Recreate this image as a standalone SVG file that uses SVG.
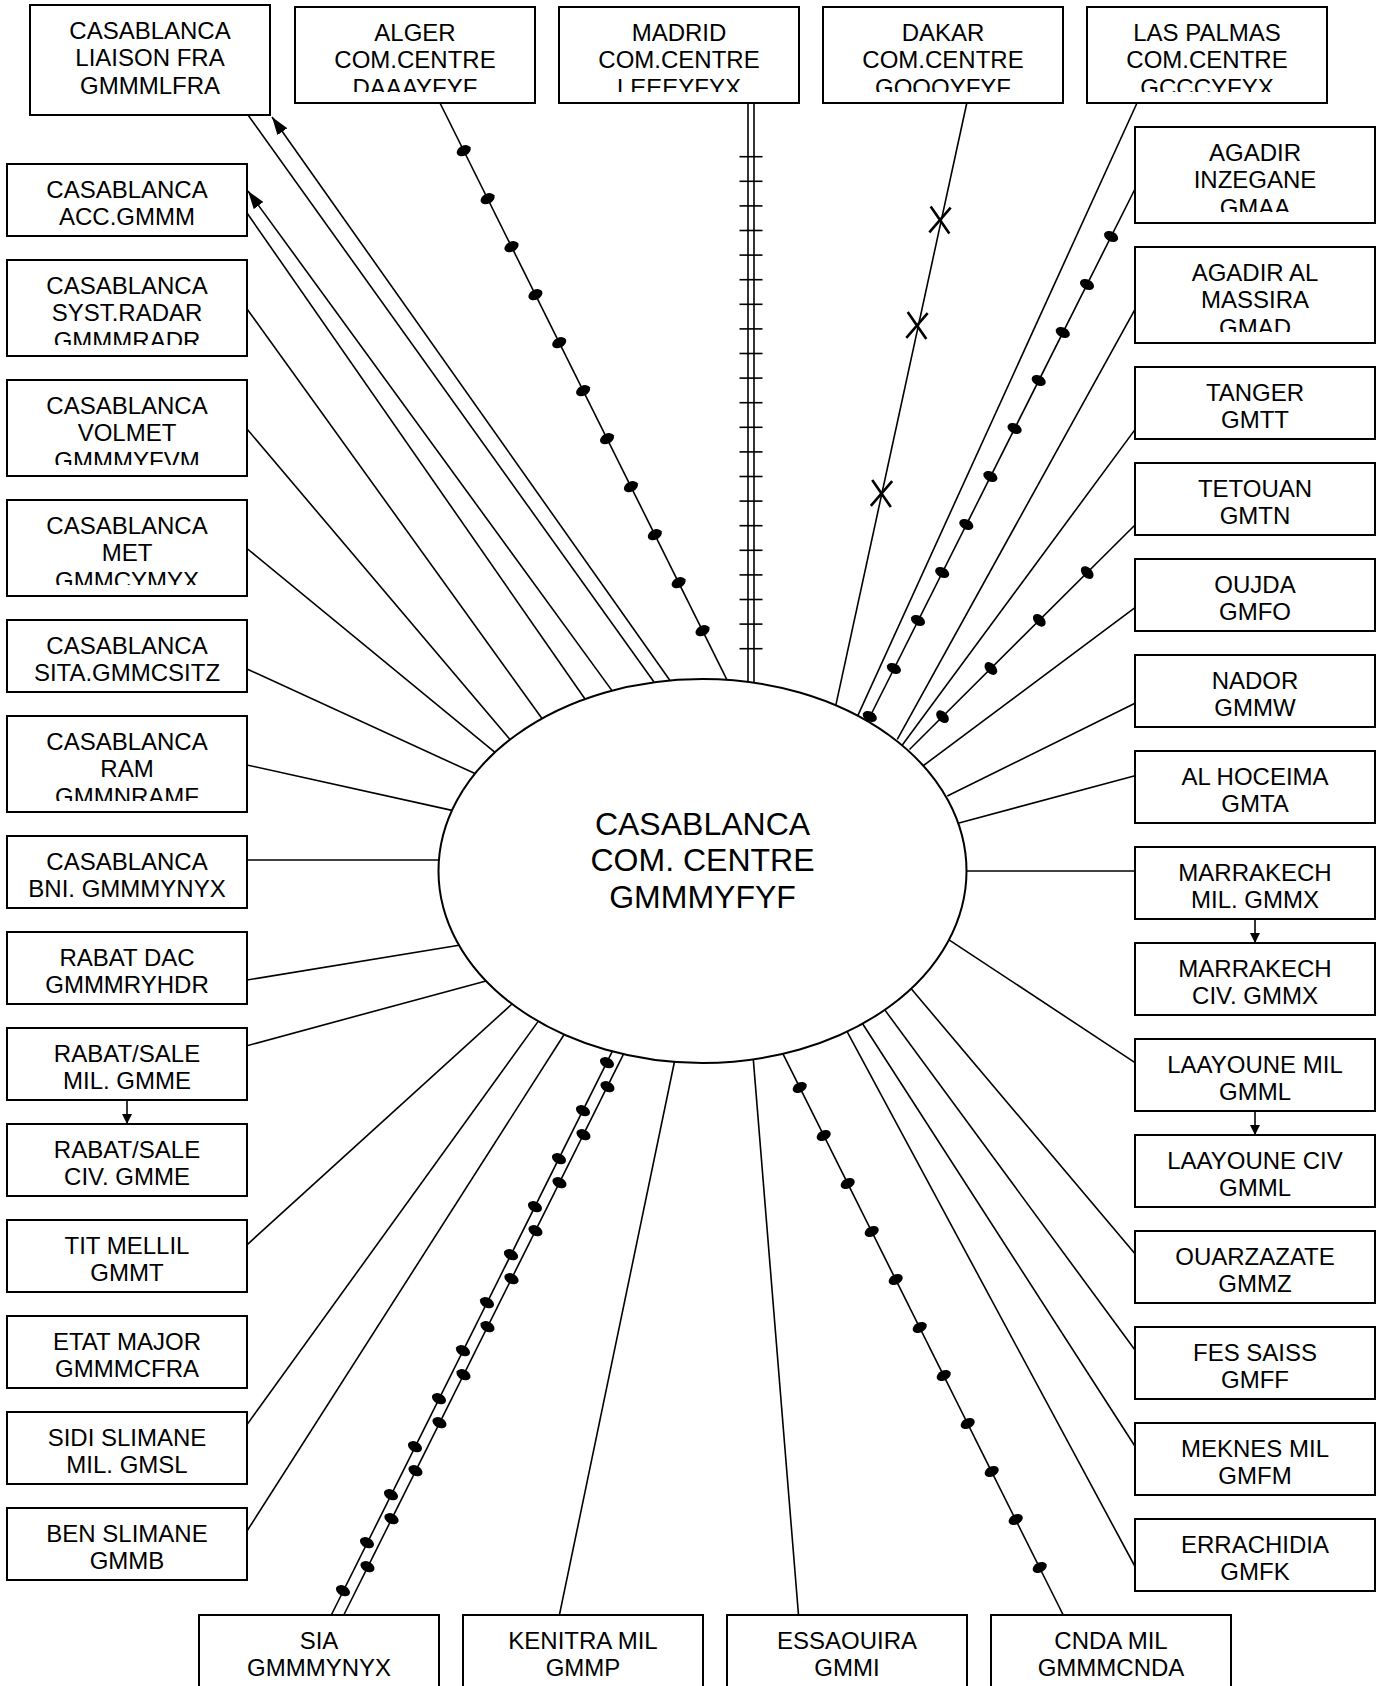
<svg xmlns="http://www.w3.org/2000/svg" xmlns:xlink="http://www.w3.org/1999/xlink" width="1384" height="1686" viewBox="0 0 1384 1686">
<style>
.box{fill:#fff;stroke:#000;stroke-width:2}
.t{font-family:"Liberation Sans",Arial,Helvetica,sans-serif;font-size:24px;text-anchor:middle;fill:#000}
.tc{font-size:32px}
.ln{stroke:#000;stroke-width:1.6;fill:none}
.tick{stroke:#000;stroke-width:1.6}
.xm{stroke:#000;stroke-width:2.6;fill:none}
.dot{fill:#000}
</style>
<defs>
<marker id="ah" viewBox="0 0 18 12" refX="18" refY="6" markerWidth="18" markerHeight="12" markerUnits="userSpaceOnUse" orient="auto"><path d="M0,0 L18,6 L0,12 z" fill="#000"/></marker>
<marker id="as" viewBox="0 0 10 10" refX="10" refY="5" markerWidth="10" markerHeight="10" markerUnits="userSpaceOnUse" orient="auto"><path d="M0,0 L10,5 L0,10 z" fill="#000"/></marker>
<ellipse id="dot" class="dot" rx="7.5" ry="5"/>
<path id="xmark" class="xm" d="M-10,-13 L10,13 M10,-13 L-10,13"/>
<clipPath id="c-alger"><rect x="295" y="7" width="240" height="85"/></clipPath>
<clipPath id="c-madrid"><rect x="559" y="7" width="240" height="85"/></clipPath>
<clipPath id="c-dakar"><rect x="823" y="7" width="240" height="85"/></clipPath>
<clipPath id="c-laspalmas"><rect x="1087" y="7" width="240" height="85"/></clipPath>
<clipPath id="c-radar"><rect x="7" y="260" width="240" height="85"/></clipPath>
<clipPath id="c-volmet"><rect x="7" y="380" width="240" height="85"/></clipPath>
<clipPath id="c-met"><rect x="7" y="500" width="240" height="85"/></clipPath>
<clipPath id="c-ram"><rect x="7" y="716" width="240" height="85"/></clipPath>
<clipPath id="c-inzegane"><rect x="1135" y="127" width="240" height="85"/></clipPath>
<clipPath id="c-massira"><rect x="1135" y="247" width="240" height="85"/></clipPath>
</defs>
<rect x="0" y="0" width="1384" height="1686" fill="#fff"/>

<g id="nodes">
<g id="center"><ellipse cx="702.5" cy="871" rx="264" ry="192" fill="#fff" stroke="#000" stroke-width="2"/>
<text class="t tc" x="702.5" y="834.5">CASABLANCA</text><text class="t tc" x="702.5" y="871">COM. CENTRE</text><text class="t tc" x="702.5" y="907.5">GMMMYFYF</text></g>

<g id="liaison"><rect class="box" x="30" y="5" width="240" height="110"/><text class="t" x="150" y="38.5">CASABLANCA</text><text class="t" x="150" y="66">LIAISON FRA</text><text class="t" x="150" y="93.5">GMMMLFRA</text></g>
<g id="alger"><rect class="box" x="295" y="7" width="240" height="96"/><g clip-path="url(#c-alger)"><text class="t" x="415" y="40.5">ALGER</text><text class="t" x="415" y="68">COM.CENTRE</text><text class="t" x="415" y="95.5">DAAAYFYF</text></g></g>
<g id="madrid"><rect class="box" x="559" y="7" width="240" height="96"/><g clip-path="url(#c-madrid)"><text class="t" x="679" y="40.5">MADRID</text><text class="t" x="679" y="68">COM.CENTRE</text><text class="t" x="679" y="95.5">LEEEYFYX</text></g></g>
<g id="dakar"><rect class="box" x="823" y="7" width="240" height="96"/><g clip-path="url(#c-dakar)"><text class="t" x="943" y="40.5">DAKAR</text><text class="t" x="943" y="68">COM.CENTRE</text><text class="t" x="943" y="95.5">GOOOYFYF</text></g></g>
<g id="laspalmas"><rect class="box" x="1087" y="7" width="240" height="96"/><g clip-path="url(#c-laspalmas)"><text class="t" x="1207" y="40.5">LAS PALMAS</text><text class="t" x="1207" y="68">COM.CENTRE</text><text class="t" x="1207" y="95.5">GCCCYFYX</text></g></g>

<g id="acc"><rect class="box" x="7" y="164" width="240" height="72"/><text class="t" x="127" y="197.5">CASABLANCA</text><text class="t" x="127" y="225">ACC.GMMM</text></g>
<g id="radar"><rect class="box" x="7" y="260" width="240" height="96"/><g clip-path="url(#c-radar)"><text class="t" x="127" y="293.5">CASABLANCA</text><text class="t" x="127" y="321">SYST.RADAR</text><text class="t" x="127" y="348.5">GMMMRADR</text></g></g>
<g id="volmet"><rect class="box" x="7" y="380" width="240" height="96"/><g clip-path="url(#c-volmet)"><text class="t" x="127" y="413.5">CASABLANCA</text><text class="t" x="127" y="441">VOLMET</text><text class="t" x="127" y="468.5">GMMMYFVM</text></g></g>
<g id="met"><rect class="box" x="7" y="500" width="240" height="96"/><g clip-path="url(#c-met)"><text class="t" x="127" y="533.5">CASABLANCA</text><text class="t" x="127" y="561">MET</text><text class="t" x="127" y="588.5">GMMCYMYX</text></g></g>
<g id="sita"><rect class="box" x="7" y="620" width="240" height="72"/><text class="t" x="127" y="653.5">CASABLANCA</text><text class="t" x="127" y="681">SITA.GMMCSITZ</text></g>
<g id="ram"><rect class="box" x="7" y="716" width="240" height="96"/><g clip-path="url(#c-ram)"><text class="t" x="127" y="749.5">CASABLANCA</text><text class="t" x="127" y="777">RAM</text><text class="t" x="127" y="804.5">GMMNRAMF</text></g></g>
<g id="bni"><rect class="box" x="7" y="836" width="240" height="72"/><text class="t" x="127" y="869.5">CASABLANCA</text><text class="t" x="127" y="897">BNI. GMMMYNYX</text></g>
<g id="rabatdac"><rect class="box" x="7" y="932" width="240" height="72"/><text class="t" x="127" y="965.5">RABAT DAC</text><text class="t" x="127" y="993">GMMMRYHDR</text></g>
<g id="rabatmil"><rect class="box" x="7" y="1028" width="240" height="72"/><text class="t" x="127" y="1061.5">RABAT/SALE</text><text class="t" x="127" y="1089">MIL. GMME</text></g>
<g id="rabatciv"><rect class="box" x="7" y="1124" width="240" height="72"/><text class="t" x="127" y="1157.5">RABAT/SALE</text><text class="t" x="127" y="1185">CIV. GMME</text></g>
<g id="titmellil"><rect class="box" x="7" y="1220" width="240" height="72"/><text class="t" x="127" y="1253.5">TIT MELLIL</text><text class="t" x="127" y="1281">GMMT</text></g>
<g id="etatmajor"><rect class="box" x="7" y="1316" width="240" height="72"/><text class="t" x="127" y="1349.5">ETAT MAJOR</text><text class="t" x="127" y="1377">GMMMCFRA</text></g>
<g id="sidislimane"><rect class="box" x="7" y="1412" width="240" height="72"/><text class="t" x="127" y="1445.5">SIDI SLIMANE</text><text class="t" x="127" y="1473">MIL. GMSL</text></g>
<g id="benslimane"><rect class="box" x="7" y="1508" width="240" height="72"/><text class="t" x="127" y="1541.5">BEN SLIMANE</text><text class="t" x="127" y="1569">GMMB</text></g>

<g id="inzegane"><rect class="box" x="1135" y="127" width="240" height="96"/><g clip-path="url(#c-inzegane)"><text class="t" x="1255" y="160.5">AGADIR</text><text class="t" x="1255" y="188">INZEGANE</text><text class="t" x="1255" y="215.5">GMAA</text></g></g>
<g id="massira"><rect class="box" x="1135" y="247" width="240" height="96"/><g clip-path="url(#c-massira)"><text class="t" x="1255" y="280.5">AGADIR AL</text><text class="t" x="1255" y="308">MASSIRA</text><text class="t" x="1255" y="335.5">GMAD</text></g></g>
<g id="tanger"><rect class="box" x="1135" y="367" width="240" height="72"/><text class="t" x="1255" y="400.5">TANGER</text><text class="t" x="1255" y="428">GMTT</text></g>
<g id="tetouan"><rect class="box" x="1135" y="463" width="240" height="72"/><text class="t" x="1255" y="496.5">TETOUAN</text><text class="t" x="1255" y="524">GMTN</text></g>
<g id="oujda"><rect class="box" x="1135" y="559" width="240" height="72"/><text class="t" x="1255" y="592.5">OUJDA</text><text class="t" x="1255" y="620">GMFO</text></g>
<g id="nador"><rect class="box" x="1135" y="655" width="240" height="72"/><text class="t" x="1255" y="688.5">NADOR</text><text class="t" x="1255" y="716">GMMW</text></g>
<g id="alhoceima"><rect class="box" x="1135" y="751" width="240" height="72"/><text class="t" x="1255" y="784.5">AL HOCEIMA</text><text class="t" x="1255" y="812">GMTA</text></g>
<g id="marrakechmil"><rect class="box" x="1135" y="847" width="240" height="72"/><text class="t" x="1255" y="880.5">MARRAKECH</text><text class="t" x="1255" y="908">MIL. GMMX</text></g>
<g id="marrakechciv"><rect class="box" x="1135" y="943" width="240" height="72"/><text class="t" x="1255" y="976.5">MARRAKECH</text><text class="t" x="1255" y="1004">CIV. GMMX</text></g>
<g id="laayounemil"><rect class="box" x="1135" y="1039" width="240" height="72"/><text class="t" x="1255" y="1072.5">LAAYOUNE MIL</text><text class="t" x="1255" y="1100">GMML</text></g>
<g id="laayouneciv"><rect class="box" x="1135" y="1135" width="240" height="72"/><text class="t" x="1255" y="1168.5">LAAYOUNE CIV</text><text class="t" x="1255" y="1196">GMML</text></g>
<g id="ouarzazate"><rect class="box" x="1135" y="1231" width="240" height="72"/><text class="t" x="1255" y="1264.5">OUARZAZATE</text><text class="t" x="1255" y="1292">GMMZ</text></g>
<g id="fessaiss"><rect class="box" x="1135" y="1327" width="240" height="72"/><text class="t" x="1255" y="1360.5">FES SAISS</text><text class="t" x="1255" y="1388">GMFF</text></g>
<g id="meknesmil"><rect class="box" x="1135" y="1423" width="240" height="72"/><text class="t" x="1255" y="1456.5">MEKNES MIL</text><text class="t" x="1255" y="1484">GMFM</text></g>
<g id="errachidia"><rect class="box" x="1135" y="1519" width="240" height="72"/><text class="t" x="1255" y="1552.5">ERRACHIDIA</text><text class="t" x="1255" y="1580">GMFK</text></g>

<g id="sia"><rect class="box" x="199" y="1615" width="240" height="96"/><text class="t" x="319" y="1648.5">SIA</text><text class="t" x="319" y="1676">GMMMYNYX</text></g>
<g id="kenitra"><rect class="box" x="463" y="1615" width="240" height="96"/><text class="t" x="583" y="1648.5">KENITRA MIL</text><text class="t" x="583" y="1676">GMMP</text></g>
<g id="essaouira"><rect class="box" x="727" y="1615" width="240" height="96"/><text class="t" x="847" y="1648.5">ESSAOUIRA</text><text class="t" x="847" y="1676">GMMI</text></g>
<g id="cnda"><rect class="box" x="991" y="1615" width="240" height="96"/><text class="t" x="1111" y="1648.5">CNDA MIL</text><text class="t" x="1111" y="1676">GMMMCNDA</text></g>
</g>

<g id="connectors">
<g class="ln">
<line x1="248" y1="115" x2="654" y2="682"/>
<line x1="670" y1="680.5" x2="272" y2="117" marker-end="url(#ah)"/>
<line x1="612" y1="690.6" x2="248" y2="191" marker-end="url(#ah)"/>
<line x1="247" y1="213" x2="585" y2="699"/>
<line x1="247" y1="309" x2="542" y2="718.5"/>
<line x1="247" y1="429" x2="510" y2="739.6"/>
<line x1="247" y1="548.5" x2="495" y2="752.3"/>
<line x1="247" y1="669" x2="475" y2="773.6"/>
<line x1="247" y1="765" x2="452" y2="810.4"/>
<line x1="247" y1="860" x2="439" y2="860"/>
<line x1="247" y1="980" x2="459" y2="945.2"/>
<line x1="247" y1="1045.7" x2="486" y2="980.9"/>
<line x1="247" y1="1244.8" x2="512" y2="1004"/>
<line x1="247" y1="1424.6" x2="538" y2="1021.6"/>
<line x1="247" y1="1531" x2="564" y2="1034.7"/>
<line x1="331.3" y1="1615" x2="612.3" y2="1051.4"/>
<line x1="343.8" y1="1615" x2="623.5" y2="1054.2"/>
<line x1="559.4" y1="1615" x2="674.4" y2="1062"/>
<line x1="798.5" y1="1615" x2="753.3" y2="1059.4"/>
<line x1="1063.2" y1="1615" x2="783" y2="1053.9"/>
<line x1="1135" y1="1566.5" x2="847.1" y2="1031.6"/>
<line x1="1135" y1="1446.2" x2="862.6" y2="1023.7"/>
<line x1="1135" y1="1350" x2="884.8" y2="1009.9"/>
<line x1="1135" y1="1253.7" x2="911" y2="988.5"/>
<line x1="1135" y1="1062.6" x2="949" y2="939.8"/>
<line x1="966.5" y1="871" x2="1135" y2="871"/>
<line x1="1135" y1="775.7" x2="959" y2="823"/>
<line x1="1135" y1="703.3" x2="947.3" y2="796"/>
<line x1="1135" y1="607.6" x2="923.5" y2="765.5"/>
<line x1="1135" y1="525" x2="909.5" y2="749.5"/>
<line x1="1135" y1="429.6" x2="902.3" y2="745"/>
<line x1="1135" y1="309.4" x2="897.3" y2="739.3"/>
<line x1="1135" y1="189" x2="868.5" y2="719.5"/>
<line x1="1137" y1="103" x2="857.7" y2="715.8"/>
<line x1="966.8" y1="103" x2="835.8" y2="705.3"/>
<line x1="748" y1="103" x2="748" y2="682"/>
<line x1="754" y1="103" x2="754" y2="682.7"/>
<line x1="440" y1="103" x2="727" y2="679.8"/>
<line x1="127" y1="1100" x2="127" y2="1124" marker-end="url(#as)"/>
<line x1="1255" y1="919" x2="1255" y2="943" marker-end="url(#as)"/>
<line x1="1255" y1="1111" x2="1255" y2="1135" marker-end="url(#as)"/>
</g>
<g id="madrid-ticks" class="tick">
<line x1="739.5" y1="156.7" x2="762.5" y2="156.7"/><line x1="739.5" y1="181.3" x2="762.5" y2="181.3"/><line x1="739.5" y1="205.9" x2="762.5" y2="205.9"/><line x1="739.5" y1="230.5" x2="762.5" y2="230.5"/><line x1="739.5" y1="255.1" x2="762.5" y2="255.1"/><line x1="739.5" y1="279.7" x2="762.5" y2="279.7"/><line x1="739.5" y1="304.3" x2="762.5" y2="304.3"/><line x1="739.5" y1="328.9" x2="762.5" y2="328.9"/><line x1="739.5" y1="353.5" x2="762.5" y2="353.5"/><line x1="739.5" y1="378.1" x2="762.5" y2="378.1"/><line x1="739.5" y1="402.7" x2="762.5" y2="402.7"/><line x1="739.5" y1="427.3" x2="762.5" y2="427.3"/><line x1="739.5" y1="451.9" x2="762.5" y2="451.9"/><line x1="739.5" y1="476.5" x2="762.5" y2="476.5"/><line x1="739.5" y1="501.1" x2="762.5" y2="501.1"/><line x1="739.5" y1="525.7" x2="762.5" y2="525.7"/><line x1="739.5" y1="550.3" x2="762.5" y2="550.3"/><line x1="739.5" y1="574.9" x2="762.5" y2="574.9"/><line x1="739.5" y1="599.5" x2="762.5" y2="599.5"/><line x1="739.5" y1="624.1" x2="762.5" y2="624.1"/><line x1="739.5" y1="648.7" x2="762.5" y2="648.7"/>
</g>
<g id="dakar-marks">
<use xlink:href="#xmark" transform="translate(940,220) rotate(3)"/>
<use xlink:href="#xmark" transform="translate(917,325.5) rotate(3)"/>
<use xlink:href="#xmark" transform="translate(881.5,493.5) rotate(3)"/>
</g>
<g id="alger-dots">
<use xlink:href="#dot" transform="translate(463.7,150.7) rotate(-26.5)"/><use xlink:href="#dot" transform="translate(487.6,198.7) rotate(-26.5)"/><use xlink:href="#dot" transform="translate(511.5,246.7) rotate(-26.5)"/><use xlink:href="#dot" transform="translate(535.4,294.7) rotate(-26.5)"/><use xlink:href="#dot" transform="translate(559.2,342.7) rotate(-26.5)"/><use xlink:href="#dot" transform="translate(583.1,390.7) rotate(-26.5)"/><use xlink:href="#dot" transform="translate(607,438.7) rotate(-26.5)"/><use xlink:href="#dot" transform="translate(630.9,486.7) rotate(-26.5)"/><use xlink:href="#dot" transform="translate(654.8,534.7) rotate(-26.5)"/><use xlink:href="#dot" transform="translate(678.6,582.7) rotate(-26.5)"/><use xlink:href="#dot" transform="translate(702.5,630.7) rotate(-26.5)"/>
</g>
<g id="inzegane-dots">
<use xlink:href="#dot" transform="translate(1111.1,236.5) rotate(26.7)"/><use xlink:href="#dot" transform="translate(1087,284.5) rotate(26.7)"/><use xlink:href="#dot" transform="translate(1062.8,332.5) rotate(26.7)"/><use xlink:href="#dot" transform="translate(1038.7,380.5) rotate(26.7)"/><use xlink:href="#dot" transform="translate(1014.6,428.5) rotate(26.7)"/><use xlink:href="#dot" transform="translate(990.4,476.5) rotate(26.7)"/><use xlink:href="#dot" transform="translate(966.3,524.5) rotate(26.7)"/><use xlink:href="#dot" transform="translate(942.2,572.5) rotate(26.7)"/><use xlink:href="#dot" transform="translate(918,620.5) rotate(26.7)"/><use xlink:href="#dot" transform="translate(893.9,668.5) rotate(26.7)"/><use xlink:href="#dot" transform="translate(869.8,716.5) rotate(26.7)"/>
</g>
<g id="tetouan-dots">
<use xlink:href="#dot" transform="translate(1087.2,572.6) rotate(45)"/><use xlink:href="#dot" transform="translate(1039.3,620.3) rotate(45)"/><use xlink:href="#dot" transform="translate(990.9,668.5) rotate(45)"/><use xlink:href="#dot" transform="translate(942.5,716.7) rotate(45)"/>
</g>
<g id="sia-dots">
<use xlink:href="#dot" transform="translate(607,1062.7) rotate(26.6)"/><use xlink:href="#dot" transform="translate(583,1110.7) rotate(26.6)"/><use xlink:href="#dot" transform="translate(559,1158.7) rotate(26.6)"/><use xlink:href="#dot" transform="translate(535,1206.7) rotate(26.6)"/><use xlink:href="#dot" transform="translate(511,1254.7) rotate(26.6)"/><use xlink:href="#dot" transform="translate(487,1302.7) rotate(26.6)"/><use xlink:href="#dot" transform="translate(463,1350.7) rotate(26.6)"/><use xlink:href="#dot" transform="translate(439,1398.7) rotate(26.6)"/><use xlink:href="#dot" transform="translate(415,1446.7) rotate(26.6)"/><use xlink:href="#dot" transform="translate(391,1494.7) rotate(26.6)"/><use xlink:href="#dot" transform="translate(367,1542.7) rotate(26.6)"/><use xlink:href="#dot" transform="translate(343,1590.7) rotate(26.6)"/>
<use xlink:href="#dot" transform="translate(607.5,1086.7) rotate(26.6)"/><use xlink:href="#dot" transform="translate(583.5,1134.7) rotate(26.6)"/><use xlink:href="#dot" transform="translate(559.5,1182.7) rotate(26.6)"/><use xlink:href="#dot" transform="translate(535.5,1230.7) rotate(26.6)"/><use xlink:href="#dot" transform="translate(511.5,1278.7) rotate(26.6)"/><use xlink:href="#dot" transform="translate(487.5,1326.7) rotate(26.6)"/><use xlink:href="#dot" transform="translate(463.5,1374.7) rotate(26.6)"/><use xlink:href="#dot" transform="translate(439.5,1422.7) rotate(26.6)"/><use xlink:href="#dot" transform="translate(415.5,1470.7) rotate(26.6)"/><use xlink:href="#dot" transform="translate(391.5,1518.7) rotate(26.6)"/><use xlink:href="#dot" transform="translate(367.5,1566.7) rotate(26.6)"/>
</g>
<g id="cnda-dots">
<use xlink:href="#dot" transform="translate(799.7,1087.5) rotate(-26.6)"/><use xlink:href="#dot" transform="translate(823.7,1135.5) rotate(-26.6)"/><use xlink:href="#dot" transform="translate(847.7,1183.5) rotate(-26.6)"/><use xlink:href="#dot" transform="translate(871.7,1231.5) rotate(-26.6)"/><use xlink:href="#dot" transform="translate(895.7,1279.5) rotate(-26.6)"/><use xlink:href="#dot" transform="translate(919.7,1327.5) rotate(-26.6)"/><use xlink:href="#dot" transform="translate(943.7,1375.5) rotate(-26.6)"/><use xlink:href="#dot" transform="translate(967.7,1423.5) rotate(-26.6)"/><use xlink:href="#dot" transform="translate(991.7,1471.5) rotate(-26.6)"/><use xlink:href="#dot" transform="translate(1015.7,1519.5) rotate(-26.6)"/><use xlink:href="#dot" transform="translate(1039.7,1567.5) rotate(-26.6)"/>
</g>
</g>
</svg>
